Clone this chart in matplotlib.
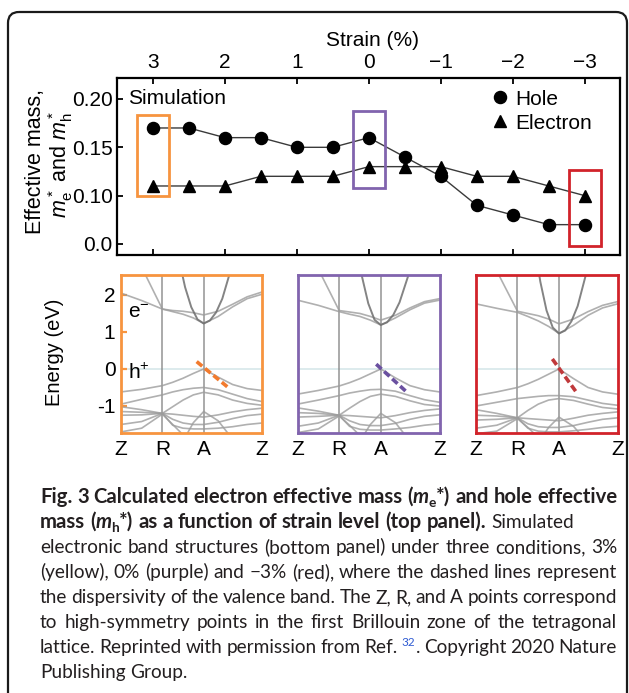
import numpy as np
import matplotlib
matplotlib.use("Agg")
import matplotlib.pyplot as plt
from matplotlib.patches import FancyBboxPatch, Rectangle
from matplotlib.lines import Line2D

plt.rcParams['font.family'] = ['Liberation Sans', 'DejaVu Sans']
plt.rcParams['mathtext.fontset'] = 'custom'
plt.rcParams['mathtext.rm'] = 'Liberation Sans'
plt.rcParams['mathtext.it'] = 'Liberation Sans:italic'
plt.rcParams['mathtext.bf'] = 'Liberation Sans:bold'

# ---------------- data: top panel ----------------
strain = [3, 2.5, 2, 1.5, 1, 0.5, 0, -0.5, -1, -1.5, -2, -2.5, -3]
hole = [0.17, 0.17, 0.16, 0.16, 0.15, 0.15, 0.16, 0.14, 0.12, 0.09, 0.08, 0.07, 0.07]
electron = [0.11, 0.11, 0.11, 0.12, 0.12, 0.12, 0.13, 0.13, 0.13, 0.12, 0.12, 0.11, 0.10]
strain_ticks = [3, 2, 1, 0, -1, -2, -3]
strain_labels = ['3', '2', '1', '0', '\u22121', '\u22122', '\u22123']
mass_ticks = [0.05, 0.10, 0.15, 0.20]
mass_labels = ['0.0', '0.10', '0.15', '0.20']
box_strain = [3, 0, -3]
box_ylo = [0.100, 0.108, 0.048]
box_yhi = [0.183, 0.188, 0.127]
box_colors = ['#F7943F', '#8164AE', '#D1232A']
dash_colors = ['#F27B2E', '#6A50A0', '#C0393B']

# ---------------- data: band structures ----------------
nan = np.nan
K_PATH = [0, 0.5, 1.0, 1.25, 1.5, 1.75, 2.0, 2.35, 2.7, 3.05, 3.41]
K_LABEL_POS = [0, 1, 2, 3.41]
K_LABELS = ['Z', 'R', 'A', 'Z']
PARAB_K = [1.4, 1.55, 1.7, 1.85, 2.0, 2.15, 2.3, 2.45, 2.7]

bands_p3 = [
    [2.05, 1.85, 1.62, 1.55, 1.48, 1.38, 1.23, 1.42, 1.68, 1.90, 2.02],
    [nan, 2.75, 1.62, 1.58, 1.56, 1.52, 1.46, 1.56, 1.75, 1.95, 2.08],
    [-0.62, -0.55, -0.45, -0.36, -0.25, -0.12, 0.0, -0.22, -0.42, -0.53, -0.58],
    [-0.95, -0.82, -0.70, -0.62, -0.56, -0.52, -0.50, -0.56, -0.68, -0.80, -0.88],
    [-1.02, -1.10, -1.20, -1.02, -0.84, -0.70, -0.63, -0.70, -0.84, -0.93, -0.98],
    [-1.15, -1.17, -1.20, -1.22, -1.25, -1.28, -1.30, -1.24, -1.16, -1.10, -1.06],
    [-1.25, -1.24, -1.20, -1.36, -1.46, -1.50, -1.50, -1.44, -1.34, -1.26, -1.22],
    [-1.50, -1.42, -1.20, -1.52, -1.60, -1.62, -1.62, -1.60, -1.56, -1.50, -1.46],
    [nan, nan, nan, nan, -1.95, -1.45, -1.15, -1.40, -1.90, nan, nan],
    [-1.70, -1.60, -1.22, -1.50, -1.78, nan, nan, nan, nan, nan, nan],
]
parab_p3 = [2.97, 2.21, 1.67, 1.34, 1.23, 1.31, 1.53, 1.90, 2.85]
dash_k_p3 = [1.83, 2.57]
dash_e_p3 = [0.20, -0.48]

bands_p0 = [
    [1.86, 1.72, 1.55, 1.48, 1.42, 1.32, 1.19, 1.38, 1.60, 1.78, 1.86],
    [nan, 2.70, 1.58, 1.54, 1.50, 1.42, 1.32, 1.45, 1.65, 1.82, 1.90],
    [-0.68, -0.58, -0.46, -0.37, -0.26, -0.13, 0.0, -0.24, -0.45, -0.56, -0.62],
    [-0.95, -0.84, -0.72, -0.65, -0.60, -0.56, -0.55, -0.60, -0.72, -0.83, -0.90],
    [-1.05, -1.14, -1.25, -1.06, -0.88, -0.74, -0.68, -0.74, -0.86, -0.96, -1.00],
    [-1.18, -1.20, -1.25, -1.26, -1.28, -1.30, -1.32, -1.26, -1.18, -1.12, -1.08],
    [-1.30, -1.28, -1.25, -1.40, -1.50, -1.53, -1.53, -1.47, -1.36, -1.28, -1.24],
    [-1.55, -1.46, -1.25, -1.55, -1.63, -1.65, -1.65, -1.62, -1.58, -1.52, -1.48],
    [nan, nan, nan, nan, -1.95, -1.50, -1.20, -1.45, -1.95, nan, nan],
    [-1.72, -1.62, -1.27, -1.52, -1.80, nan, nan, nan, nan, nan, nan],
]
parab_p0 = [3.40, 2.49, 1.77, 1.33, 1.19, 1.26, 1.46, 1.80, 2.66]
dash_k_p0 = [1.89, 2.60]
dash_e_p0 = [0.13, -0.60]

bands_m3 = [
    [1.76, 1.64, 1.53, 1.42, 1.30, 1.15, 0.96, 1.18, 1.45, 1.65, 1.76],
    [nan, 2.65, 1.56, 1.50, 1.44, 1.35, 1.22, 1.35, 1.55, 1.72, 1.82],
    [-0.72, -0.62, -0.50, -0.40, -0.28, -0.14, 0.0, -0.26, -0.50, -0.62, -0.68],
    [-1.00, -0.90, -0.80, -0.77, -0.74, -0.72, -0.72, -0.75, -0.84, -0.93, -0.98],
    [-1.10, -1.20, -1.32, -1.12, -0.95, -0.84, -0.80, -0.85, -0.95, -1.04, -1.08],
    [-1.25, -1.27, -1.32, -1.34, -1.36, -1.38, -1.40, -1.33, -1.25, -1.20, -1.16],
    [-1.38, -1.36, -1.32, -1.48, -1.56, -1.58, -1.58, -1.53, -1.44, -1.36, -1.32],
    [-1.60, -1.52, -1.32, -1.60, -1.68, -1.70, -1.70, -1.67, -1.63, -1.58, -1.55],
    [nan, nan, nan, nan, -2.00, -1.58, -1.30, -1.55, -2.00, nan, nan],
    [-1.75, -1.68, -1.34, -1.58, -1.85, nan, nan, nan, nan, nan, nan],
]
parab_m3 = [3.40, 2.36, 1.58, 1.12, 0.96, 1.04, 1.29, 1.70, 2.77]
dash_k_m3 = [1.84, 2.44]
dash_e_m3 = [0.27, -0.66]

energy_ticks = [-1, 0, 1, 2]
energy_labels = ['-1', '0', '1', '2']

# ---------------- figure ----------------
W, H = 629, 693
fig = plt.figure(figsize=(W / 100, H / 100), dpi=100)
bg = fig.add_axes([0, 0, 1, 1], zorder=-1)
bg.set_xlim(0, W)
bg.set_ylim(H, 0)
bg.axis('off')

bg.add_patch(FancyBboxPatch((8, 12), 619, 700, boxstyle='round,pad=0,rounding_size=11',
                            fill=False, lw=1.6, ec='#1a1a1a', clip_on=False))

def fax(x0, y0, x1, y1):
    return fig.add_axes([x0 / W, 1 - y1 / H, (x1 - x0) / W, (y1 - y0) / H])

# ---- top panel ----
ax = fax(117, 78, 620, 255)
ax.plot(strain, hole, color='#3a3a3a', lw=1.0, zorder=2)
ax.plot(strain, electron, color='#3a3a3a', lw=1.0, zorder=2)
ax.plot(strain, hole, 'o', color='black', ms=8.7, ls='none', zorder=3)
ax.plot(strain, electron, '^', color='black', ms=9, ls='none', zorder=3)
for s, lo, hi, c in zip(box_strain, box_ylo, box_yhi, box_colors):
    ax.add_patch(Rectangle((s - 0.22, lo), 0.44, hi - lo, fill=False, ec=c, lw=2.0, zorder=4))
ax.set_xlim(3.5, -3.49)
ax.set_ylim(0.0386, 0.2217)
ax.set_xticks(strain_ticks)
ax.set_xticklabels(strain_labels)
ax.set_yticks(mass_ticks)
ax.set_yticklabels(mass_labels)
ax.tick_params(axis='both', direction='in', length=4, width=1.3, labelsize=15,
               top=True, bottom=True, labeltop=True, labelbottom=False, pad=3)
ax.tick_params(axis='x', pad=4)
for sp in ax.spines.values():
    sp.set_linewidth(1.6)
ax.text(0.022, 0.887, 'Simulation', transform=ax.transAxes, fontsize=15, va='center', ha='left')
handles = [Line2D([], [], marker='o', ls='none', color='black', ms=8.7),
           Line2D([], [], marker='^', ls='none', color='black', ms=9)]
ax.legend(handles, ['Hole', 'Electron'], loc='upper right', bbox_to_anchor=(0.945, 0.935),
          frameon=False, fontsize=15, handlelength=0.8, handletextpad=0.35,
          labelspacing=0.25, borderaxespad=0, borderpad=0)

bg.text(372, 40, 'Strain (%)', fontsize=15, ha='center', va='center')
bg.text(36, 162, 'Effective mass,', fontsize=15.5, rotation=90, ha='center', va='center')
bg.text(61, 164, r'$m_\mathrm{e}^*$ and $m_\mathrm{h}^*$', fontsize=15.5, rotation=90,
        ha='center', va='center')

# ---- band panels ----
panels = [
    ((121, 262), bands_p3, parab_p3, dash_k_p3, dash_e_p3),
    ((297.5, 439.5), bands_p0, parab_p0, dash_k_p0, dash_e_p0),
    ((476, 617.5), bands_m3, parab_m3, dash_k_m3, dash_e_m3),
]
for i, ((x0, x1), bands, parab, dk, de) in enumerate(panels):
    pax = fax(x0, 275, x1, 433)
    pax.set_xlim(0, 3.41)
    pax.set_ylim(-1.73, 2.54)
    pax.axhline(0, color='#d3e6e8', lw=1.1, zorder=1)
    for xv in K_LABEL_POS[1:3]:
        pax.axvline(xv, color='#8a8a8a', lw=1.2, alpha=0.85, zorder=1)
    for b in bands:
        pax.plot(K_PATH, b, color='#9c9c9c', lw=1.2, alpha=0.8, zorder=2)
    pax.plot(PARAB_K, parab, color='#6e6e6e', lw=1.4, alpha=0.85, zorder=2)
    pax.plot(dk, de, ls=(0, (2, 1)), color=dash_colors[i], lw=2.6, zorder=3)
    for sp in pax.spines.values():
        sp.set_color(box_colors[i])
        sp.set_linewidth(2.0)
    pax.set_xticks(K_LABEL_POS)
    pax.set_xticklabels(K_LABELS)
    pax.tick_params(axis='x', length=0, labelsize=15, pad=5)
    if i == 0:
        pax.set_yticks(energy_ticks)
        pax.set_yticklabels(energy_labels)
        pax.tick_params(axis='y', direction='in', length=4, width=1.6, color=box_colors[0],
                        labelsize=15, pad=4)
        pax.text(0.05, 0.76, 'e$^{-}$', transform=pax.transAxes, fontsize=15, va='center')
        pax.text(0.05, 0.38, 'h$^{+}$', transform=pax.transAxes, fontsize=15, va='center')
    else:
        pax.set_yticks([])

bg.text(54, 352, 'Energy (eV)', fontsize=14.5, rotation=90, ha='center', va='center')

# ---------------- caption ----------------
CAP_FONT = ['Lato', 'DejaVu Sans']
CAP_COLOR = '#231f20'
R = {}
B = {'weight': 'bold'}
BI = {'weight': 'bold', 'style': 'italic'}
BSUB = {'weight': 'bold', 'scale': 0.68, 'dy': 4}
SUP = {'scale': 0.62, 'dy': -7, 'color': '#2f5bd3'}

renderer = fig.canvas.get_renderer()
SIZES = {'regular': 12.0, 'bold': 12.0}

def make_text(x, y, s, st):
    fs = SIZES['bold'] if st.get('weight') == 'bold' else SIZES['regular']
    return bg.text(x, y + st.get('dy', 0), s, fontsize=fs * st.get('scale', 1.0),
                   fontweight=st.get('weight', 'normal'), fontstyle=st.get('style', 'normal'),
                   color=st.get('color', CAP_COLOR), family=CAP_FONT, ha='left', va='baseline')

def measure(s, st):
    t = make_text(0, 0, s, st)
    w = t.get_window_extent(renderer).width
    t.remove()
    return w

def words(text, st):
    return [[(w, st)] for w in text.split(' ')]

def natural_width(toks, st):
    sp = measure('a a', st) - measure('aa', st)
    return sum(sum(measure(s, pst) for s, pst in tok) for tok in toks) + sp * (len(toks) - 1)

lines = [
    (words('Fig. 3 Calculated electron effective mass', B)
     + [[('(', B), ('m', BI), ('e', BSUB), ('*)', B)]]
     + words('and hole effective', B), True),
    ([[('mass', B)], [('(', B), ('m', BI), ('h', BSUB), ('*)', B)]]
     + words('as a function of strain level (top panel).', B)
     + words('Simulated', R), False),
    (words('electronic band structures (bottom panel) under three conditions, 3%', R), True),
    (words('(yellow), 0% (purple) and \u22123% (red), where the dashed lines represent', R), True),
    (words('the dispersivity of the valence band. The Z, R, and A points correspond', R), True),
    (words('to high-symmetry points in the first Brillouin zone of the tetragonal', R), True),
    (words('lattice. Reprinted with permission from Ref.', R)
     + [[('32', SUP), ('.', R)]] + words('Copyright 2020 Nature', R), True),
    (words('Publishing Group.', R), False),
]

X0, X1 = 40, 617
# fit the regular size to line 3 and the bold size to line 1
SIZES['regular'] = 12.0 * (X1 - X0 - 3) / natural_width(lines[2][0], R)
SIZES['bold'] = 12.0 * (X1 - X0 - 3) / natural_width(lines[0][0], B)

space_r = measure('a a', R) - measure('aa', R)
y = 503
for toks, justify in lines:
    objs, widths = [], []
    for tok in toks:
        pieces, xo = [], 0.0
        for s, st in tok:
            t = make_text(0, y, s, st)
            w = t.get_window_extent(renderer).width
            pieces.append((t, xo))
            xo += w
        objs.append(pieces)
        widths.append(xo)
    gap = space_r
    if justify and len(toks) > 1:
        gap = (X1 - X0 - sum(widths)) / (len(toks) - 1)
    xc = X0
    for pieces, w in zip(objs, widths):
        for t, xo in pieces:
            t.set_x(xc + xo)
        xc += w + gap
    y += 25

fig.savefig('out.png', dpi=100)
